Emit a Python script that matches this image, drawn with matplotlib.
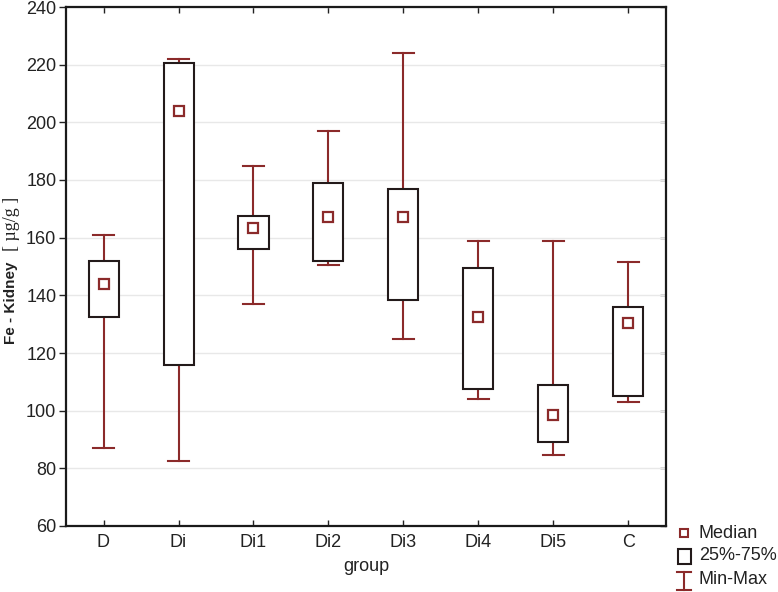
import matplotlib
matplotlib.use("Agg")
import matplotlib.pyplot as plt
from matplotlib.patches import Rectangle
from matplotlib.lines import Line2D

plt.rcParams['font.family'] = ['Liberation Sans', 'DejaVu Sans']

# data
groups = ["D", "Di", "Di1", "Di2", "Di3", "Di4", "Di5", "C"]
mins = [87, 82.5, 137, 150.5, 125, 104, 84.5, 103]
q1 = [132.5, 116, 156, 152, 138.5, 107.5, 89, 105]
medians = [144, 204, 163.5, 167, 167, 132.5, 98.5, 130.5]
q3 = [152, 220.5, 167.5, 179, 177, 149.5, 109, 136]
maxs = [161, 222, 185, 197, 224, 159, 159, 151.5]

RED = "#8b2a2a"
BOXC = "#231a1a"
TXT = "#222222"
BOX_W = 0.4
CAP_W = 0.27
W, H = 778, 592


def fx(px):
    return px / W


def fy(py):
    return 1 - py / H


fig = plt.figure(figsize=(W / 100, H / 100), dpi=100)
ax = fig.add_axes([fx(66), fy(526), 600 / W, 519 / H])

for i in range(len(groups)):
    # whiskers
    ax.plot([i, i], [q3[i], maxs[i]], color=RED, lw=1.5, zorder=2)
    ax.plot([i, i], [mins[i], q1[i]], color=RED, lw=1.5, zorder=2)
    ax.plot([i - CAP_W / 2, i + CAP_W / 2], [maxs[i], maxs[i]], color=RED, lw=1.5, zorder=2)
    ax.plot([i - CAP_W / 2, i + CAP_W / 2], [mins[i], mins[i]], color=RED, lw=1.5, zorder=2)
    # box
    ax.add_patch(Rectangle((i - BOX_W / 2, q1[i]), BOX_W, q3[i] - q1[i],
                           facecolor="white", edgecolor=BOXC, lw=1.5, zorder=3))
    # median
    ax.plot(i, medians[i], marker="s", ms=7, mfc="white", mec=RED, mew=1.6, zorder=4)

ax.set_xlim(-0.5, len(groups) - 0.5)
ax.set_ylim(60, 240)
ax.set_yticks(range(60, 241, 20))
ax.set_xticks(range(len(groups)))
ax.set_xticklabels(groups)
ax.yaxis.grid(True, color="#e8e8e8", lw=1)
ax.set_axisbelow(True)
ax.tick_params(axis="y", direction="out", length=5, width=1, pad=2,
               labelsize=13, colors=TXT)
ax.tick_params(axis="x", direction="in", length=4, width=1, pad=6,
               labelsize=13, top=True, colors=TXT)
right = ax.secondary_yaxis("right")
right.set_yticks(range(60, 241, 20))
right.tick_params(direction="in", length=4, width=1, labelright=False, colors=TXT)
right.spines["right"].set_visible(False)
for s in ax.spines.values():
    s.set_linewidth(1.6)
    s.set_color("#1a1a1a")
ax.set_xlabel("group", fontsize=13, labelpad=5, color=TXT)

# y label: bold sans part and serif unit part
fig.text(fx(11), fy(344), "Fe - Kidney", rotation=90, fontsize=11,
         fontweight="bold", ha="center", va="bottom", color=TXT)
fig.text(fx(11), fy(224), "[ µg/g ]", rotation=90, fontsize=13,
         family="Liberation Serif", ha="center", va="center", color=TXT)

# legend drawn outside the axes
mx = 684
fig.add_artist(Line2D([fx(mx)], [fy(533)], marker="s", ms=6, mfc="white",
                      mec=RED, mew=1.5, ls="none", transform=fig.transFigure))
fig.text(fx(699), fy(533), "Median", fontsize=13, va="center", color=TXT)
fig.add_artist(Rectangle((fx(678), fy(564)), 13 / W, 15 / H,
                         facecolor="white", edgecolor=BOXC, lw=1.5,
                         transform=fig.transFigure))
fig.text(fx(699), fy(556), "25%-75%", fontsize=13, va="center", color=TXT)
fig.add_artist(Line2D([fx(mx), fx(mx)], [fy(572), fy(590)], color=RED, lw=1.5,
                      transform=fig.transFigure))
for yy in (572, 590):
    fig.add_artist(Line2D([fx(mx - 7), fx(mx + 7)], [fy(yy), fy(yy)],
                          color=RED, lw=1.5, transform=fig.transFigure))
fig.text(fx(699), fy(579), "Min-Max", fontsize=13, va="center", color=TXT)

fig.savefig("out.png", dpi=100)
